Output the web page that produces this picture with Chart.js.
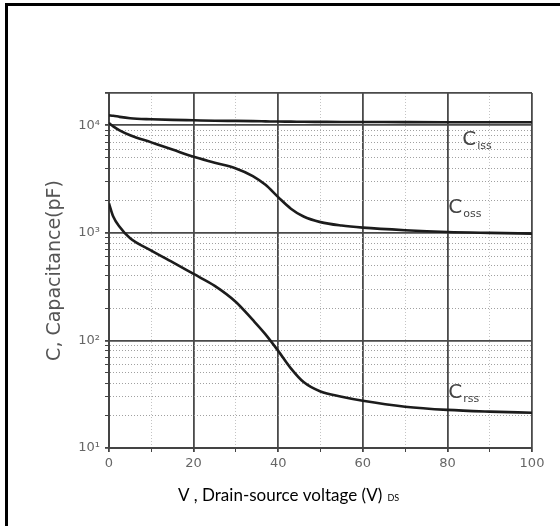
<!DOCTYPE html>
<html>
<head>
<meta charset="utf-8">
<script src="https://cdn.jsdelivr.net/npm/chart.js@4.4.1/dist/chart.umd.min.js"></script>
<style>
  body { margin: 0; background: #fff; }
  #wrap { position: relative; width: 560px; height: 526px; }
  #frame {
    position: absolute; left: 5px; top: 3px; width: 555px; height: 523px;
    border-left: 3px solid #000; border-top: 3px solid #000; box-sizing: border-box;
  }
  canvas { position: absolute; left: 0; top: 0; }
</style>
</head>
<body>
<div id="wrap">
  <canvas id="capChart" width="560" height="526"></canvas>
  <div id="frame"></div>
</div>
<script>
// V_DS sample points (V)
const vds  = [0, 1, 2.5, 5, 10, 15, 20, 25, 30, 34, 37, 40, 43, 46, 50, 55, 60, 70, 80, 90, 100];
// capacitances (pF)
const ciss = [12400, 12300, 12000, 11650, 11400, 11250, 11150, 11050, 11000, 10950, 10900, 10850, 10830, 10800, 10780, 10760, 10750, 10720, 10700, 10700, 10700];
const coss = [10500, 9800, 9000, 8100, 6950, 5960, 5100, 4500, 3980, 3380, 2800, 2150, 1680, 1420, 1260, 1170, 1120, 1060, 1020, 1000, 985];
const crss = [1880, 1420, 1140, 890, 685, 535, 415, 322, 228, 155, 114, 80, 55, 41, 33.5, 30, 27.5, 24.2, 22.6, 21.8, 21.3];

const xTicks = [0, 10, 20, 30, 40, 50, 60, 70, 80, 90, 100];
const decades = [10, 100, 1000, 10000];
const mults = [1, 2, 3, 4, 5, 6, 7, 8, 9];
const yMin = 10, yMax = 20000;

// curve labels: subscript and anchor in data units
const curveNames = ['iss', 'oss', 'rss'];
const curveLabelX = [83.5, 80.2, 80.2];
const curveLabelY = [6560, 1530, 29.4];

const yTicks = [];
decades.forEach(d => mults.forEach(m => { if (d * m < yMax) yTicks.push(d * m); }));
yTicks.push(yMax);

const sup = { '1': '\u00b9', '2': '\u00b2', '3': '\u00b3', '4': '\u2074' };
const isDecade = v => Math.abs(Math.log10(v) - Math.round(Math.log10(v))) < 1e-9;
const isMajorY = v => isDecade(v) || v === yMax;

const lineColor = '#1c1c1c';
const toPts = arr => arr.map((y, i) => ({ x: vds[i], y: y }));

const overlay = {
    id: 'overlay',
    afterDraw(chart) {
        const ctx = chart.ctx;
        const xs = chart.scales.x, ys = chart.scales.y;
        ctx.save();
        ctx.fillStyle = '#444';
        ctx.textBaseline = 'alphabetic';
        curveNames.forEach((sub, i) => {
            const px = xs.getPixelForValue(curveLabelX[i]);
            const py = ys.getPixelForValue(curveLabelY[i]);
            ctx.font = '20px "DejaVu Sans"';
            ctx.fillText('C', px, py);
            const w = ctx.measureText('C').width;
            ctx.font = '11px "DejaVu Sans"';
            ctx.fillText(sub, px + w + 1, py + 4);
        });
        // x axis title
        ctx.fillStyle = '#000';
        ctx.font = '17px Lato';
        const t = 'V , Drain-source voltage (V)';
        ctx.fillText(t, 178, 501);
        const tw = ctx.measureText(t).width;
        ctx.font = '9px Lato';
        ctx.fillText('DS', 178 + tw + 5, 501);
        ctx.restore();
    }
};

const ctx = document.getElementById('capChart').getContext('2d');
const chart = new Chart(ctx, {
    type: 'line',
    data: {
        datasets: [
            { label: 'Ciss', data: toPts(ciss) },
            { label: 'Coss', data: toPts(coss) },
            { label: 'Crss', data: toPts(crss) }
        ].map(d => Object.assign(d, {
            borderColor: lineColor,
            borderWidth: 2.6,
            pointRadius: 0,
            fill: false,
            cubicInterpolationMode: 'monotone'
        }))
    },
    options: {
        responsive: false,
        animation: false,
        layout: { padding: { top: 93, right: 28, left: 0, bottom: 0 } },
        plugins: { legend: { display: false }, tooltip: { enabled: false } },
        scales: {
            x: {
                type: 'linear',
                min: 0,
                max: 100,
                afterBuildTicks: s => { s.ticks = xTicks.map(v => ({ value: v })); },
                afterFit: s => { s.height = 78; },
                ticks: {
                    autoSkip: false,
                    maxRotation: 0,
                    padding: 4,
                    color: '#666',
                    font: { family: 'DejaVu Sans', size: 13 },
                    callback: v => (v % 20 === 0 ? String(v) : '')
                },
                grid: {
                    color: c => (c.tick && c.tick.value % 20 === 0 ? '#4a4a4a' : '#c4c4c4'),
                    lineWidth: c => (c.tick && c.tick.value % 20 === 0 ? 1.8 : 1),
                    tickColor: '#444',
                    tickLength: 4
                },
                border: {
                    color: '#444',
                    width: 2,
                    dash: c => (c.tick && c.tick.value % 20 !== 0 ? [1, 2] : [])
                }
            },
            y: {
                type: 'logarithmic',
                min: yMin,
                max: yMax,
                afterBuildTicks: s => { s.ticks = yTicks.map(v => ({ value: v })); },
                afterFit: s => { s.width = 109; },
                ticks: {
                    autoSkip: false,
                    padding: 5,
                    color: '#666',
                    font: { family: 'DejaVu Sans', size: 13 },
                    callback: v => {
                        if (!isDecade(v)) return '';
                        const e = String(Math.round(Math.log10(v)));
                        return '10' + sup[e];
                    }
                },
                grid: {
                    color: c => (c.tick && isMajorY(c.tick.value) ? '#4a4a4a' : '#a0a0a0'),
                    lineWidth: c => (c.tick && isMajorY(c.tick.value) ? 1.8 : 1),
                    tickColor: '#444',
                    tickLength: 4
                },
                border: {
                    color: '#444',
                    width: 2,
                    dash: c => (c.tick && !isMajorY(c.tick.value) ? [1, 2] : [])
                },
                title: {
                    display: true,
                    text: 'C, Capacitance(pF)',
                    color: '#555',
                    font: { family: 'DejaVu Sans', size: 19 },
                    padding: { top: 44, bottom: 0 }
                }
            }
        }
    },
    plugins: [overlay]
});
</script>
</body>
</html>
